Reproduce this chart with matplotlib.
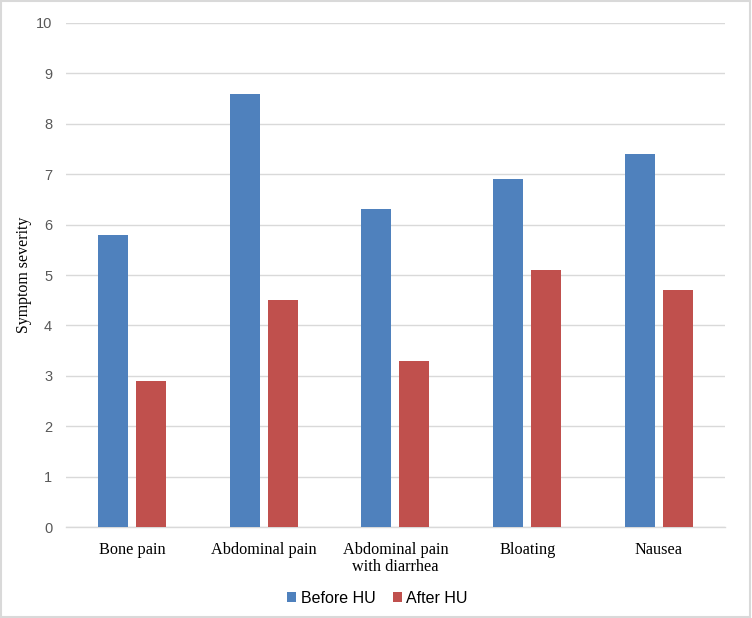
import matplotlib
matplotlib.use("Agg")
import matplotlib.pyplot as plt
import numpy as np
from matplotlib.patches import Rectangle

categories = ["Bone pain", "Abdominal pain", "Abdominal pain\nwith diarrhea", "Bloating", "Nausea"]
before = [5.8, 8.6, 6.3, 6.9, 7.4]
after = [2.9, 4.5, 3.3, 5.1, 4.7]
series_names = ["Before HU", "After HU"]

blue = "#4F81BD"
red = "#C0504D"

fig = plt.figure(figsize=(7.52, 6.18), dpi=100)
ax = fig.add_axes([0.0878, 0.1472, 0.876, 0.8156])

x = np.arange(len(categories))
w = 0.228
ax.bar(x - 0.144, before, w, color=blue, label=series_names[0], zorder=3)
ax.bar(x + 0.144, after, w, color=red, label=series_names[1], zorder=3)

ax.set_xlim(-0.5, len(categories) - 0.5)
ax.set_ylim(0, 10)
ax.set_yticks(range(0, 11))
ax.yaxis.grid(True, color="#D9D9D9", linewidth=1, zorder=0)
for s in ["top", "right", "left"]:
    ax.spines[s].set_visible(False)
ax.spines["bottom"].set_color("#D9D9D9")
ax.spines["bottom"].set_linewidth(1)
ax.tick_params(axis="both", length=0)
ax.tick_params(axis="y", pad=10, labelsize=10.5, labelcolor="#595959")
for t in ax.get_yticklabels():
    t.set_family("Liberation Sans")

ax.set_xticks(x)
ax.set_xticklabels(categories, family="Liberation Serif", fontsize=11.7, linespacing=1.15)
ax.tick_params(axis="x", pad=10.5)
ax.set_ylabel("Symptom severity", family="Liberation Serif", fontsize=11.4)
ax.yaxis.set_label_coords(-0.0516, 0.5)

fig.legend(loc="center", bbox_to_anchor=(0.502, 0.032), ncol=2, frameon=False,
           prop={"family": "Liberation Sans", "size": 11.5}, handlelength=0.55,
           handleheight=0.55, handletextpad=0.3, columnspacing=1.1)

fig.patches.append(Rectangle((0.001, 0.002), 0.997, 0.996, transform=fig.transFigure,
                             fill=False, edgecolor="#D9D9D9", linewidth=1.5))

fig.savefig("out.png", dpi=100)
